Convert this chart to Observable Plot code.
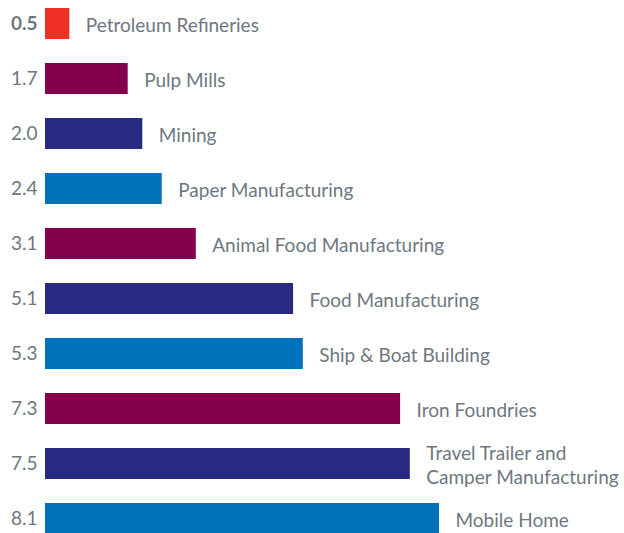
<!DOCTYPE html>
<html><head><meta charset="utf-8">
<script src="https://cdn.jsdelivr.net/npm/d3@7"></script>
<script src="https://cdn.jsdelivr.net/npm/@observablehq/plot@0.6"></script>
<style>
body{margin:0;background:#fff;overflow:hidden;}
svg{display:block;font-family:Lato,"Open Sans",sans-serif;}
</style>
</head><body>
<div id="chart"></div>
<script>
const industries = ["Petroleum Refineries","Pulp Mills","Mining","Paper Manufacturing","Animal Food Manufacturing","Food Manufacturing","Ship & Boat Building","Iron Foundries","Travel Trailer and\nCamper Manufacturing","Mobile Home"];
const values = [0.5,1.7,2.0,2.4,3.1,5.1,5.3,7.3,7.5,8.1];
const valueLabels = ["0.5","1.7","2.0","2.4","3.1","5.1","5.3","7.3","7.5","8.1"];
const colors = ["#EE3124","#84004F","#262A80","#0072BC","#84004F","#262A80","#0072BC","#84004F","#262A80","#0072BC"];

const data = industries.map((name,i)=>({name, value: values[i], label: valueLabels[i], color: colors[i], first: i===0}));
const textColor = "#6e7781";

const chart = Plot.plot({
  width: 624,
  height: 541,
  marginLeft: 45,
  marginRight: 185,
  marginTop: 0,
  marginBottom: 0,
  style: {fontFamily: "Lato, 'Open Sans', sans-serif", background: "#fff"},
  x: {domain: [0, 8.1], axis: null},
  y: {domain: industries, axis: null, paddingInner: 0.44, paddingOuter: 0.108},
  color: {type: "identity"},
  marks: [
    Plot.barX(data, {x: "value", y: "name", fill: "color"}),
    Plot.text(data.filter(d=>!d.first), {x: 0, y: "name", text: "label", textAnchor: "end", dx: -8, fill: textColor, fontSize: 19}),
    Plot.text(data.filter(d=>d.first), {x: 0, y: "name", text: "label", textAnchor: "end", dx: -8, fill: textColor, fontSize: 19, fontWeight: "bold"}),
    Plot.text(data, {x: "value", y: "name", text: "name", textAnchor: "start", dx: 16, fill: textColor, fontSize: 19, lineHeight: 1.3})
  ]
});
document.getElementById("chart").appendChild(chart);
</script>
</body></html>
